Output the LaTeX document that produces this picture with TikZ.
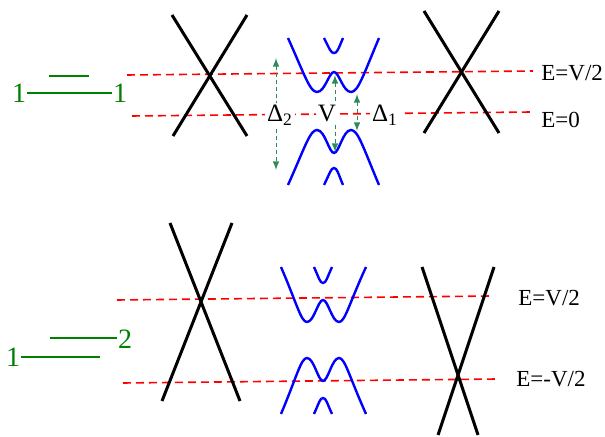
\documentclass[tikz,border=0pt]{standalone}
\usepackage{fontspec}
\setmainfont{Liberation Serif}
\usepackage{tikz}
\usetikzlibrary{arrows,positioning}
\definecolor{levelgreen}{RGB}{0,128,0}
\definecolor{gapgreen}{RGB}{46,139,87}

\tikzset{
  cone/.style={line width=1.5pt, black},
  band/.style={line width=1.2pt, blue},
  elevel/.style={red, line width=0.8pt, dash pattern=on 4pt off 2.5pt},
  gaparrow/.style={<->, >=latex, gapgreen, line width=0.5pt, dash pattern=on 2pt off 1.5pt},
  elabel/.style={anchor=west, inner sep=0pt, font=\fontsize{11.5}{13}\selectfont},
  gaplabel/.style={fill=white, inner sep=1pt, font=\fontsize{12.5}{14}\selectfont},
  num/.style={levelgreen, inner sep=0.5pt, font=\fontsize{14}{15}\selectfont},
  lvl/.style={levelgreen, line width=1.4pt}
}

\begin{document}
\begin{tikzpicture}[x=0.5pt, y=-0.5pt]
  \useasboundingbox (0,0) rectangle (605,437);

  % upper panel: levels 1 -- 1
  \node[num] (top1l) at (19,93) {1};
  \node[num] (top1r) at (120,93) {1};
  \draw[lvl] (top1l.east) -- (top1r.west);
  \draw[lvl] (49,76) -- (89,76);

  % energies
  \node[elabel] (topEv) at (541,73) {E=V/2};
  \node[elabel] (topE0) at (541,120) {E=0};
  \draw[elevel] (127,75) -- (533,71);
  \draw[elevel] (132,116) -- (532,112);

  % dirac cones
  \draw[cone] (172,15) -- (247,136);
  \draw[cone] (247,15) -- (173,136);
  \draw[cone] (424,11) -- (499,133);
  \draw[cone] (499,11) -- (424,133);

  % gapped bands
  \draw[band] (288,38) .. controls (305,76) and (310,92) .. (317,92)
    .. controls (325,92) and (329,72) .. (334,72)
    .. controls (339,72) and (343,92) .. (351,92)
    .. controls (358,92) and (363,76) .. (379,38);
  \draw[band] (324,38) .. controls (330,50) and (331,53) .. (334,53)
    .. controls (337,53) and (338,50) .. (343,38);
  \draw[band] (288,185) .. controls (305,147) and (310,130) .. (317,130)
    .. controls (325,130) and (329,153) .. (334,153)
    .. controls (339,153) and (343,130) .. (351,130)
    .. controls (358,130) and (363,147) .. (379,185);
  \draw[band] (324,185) .. controls (330,173) and (331,168) .. (334,168)
    .. controls (337,168) and (338,173) .. (343,185);

  % gaps
  \coordinate (d2top) at (276,58);
  \coordinate (d2bot) at (276,170);
  \coordinate (vtop) at (335,75);
  \coordinate (vbot) at (335,152);
  \coordinate (d1top) at (357,94);
  \coordinate (d1bot) at (357,131);
  \draw[gaparrow] (d2top) -- (d2bot);
  \draw[gaparrow] (vtop) -- (vbot);
  \draw[gaparrow] (d1top) -- (d1bot);
  \node[gaplabel] (delta2) at (280,115) {Δ\textsubscript{2}};
  \node[gaplabel] (vgap) at (327,114) {V};
  \node[gaplabel] (delta1) at (385,115) {Δ\textsubscript{1}};

  % lower panel: levels 1 -- 2
  \node[num] (bot1) at (13,357) {1};
  \node[num] (bot2) at (125,339) {2};
  \coordinate (bot1end) at (100,357);
  \coordinate (bot2start) at (50,338);
  \draw[lvl] (bot1.east) -- (bot1end);
  \draw[lvl] (bot2start) -- (bot2start -| bot2.west);

  % energies
  \node[elabel] (botEv) at (518,298) {E=V/2};
  \node[elabel] (botEm) at (516,379) {E=-V/2};
  \draw[elevel] (117,300) -- (492,296);
  \draw[elevel] (123,383) -- (497,379);

  % shifted cones
  \draw[cone] (170,223) -- (240,401);
  \draw[cone] (232,223) -- (162,401);
  \draw[cone] (422,267) -- (478,435);
  \draw[cone] (494,267) -- (438,435);

  % gapped bands
  \draw[band] (281,267) .. controls (297,304) and (301,322) .. (307,322)
    .. controls (314,322) and (318,300) .. (323,300)
    .. controls (328,300) and (332,322) .. (339,322)
    .. controls (345,322) and (349,304) .. (366,267);
  \draw[band] (314,267) .. controls (319,278) and (320,283) .. (323,283)
    .. controls (326,283) and (327,278) .. (332,267);
  \draw[band] (281,414) .. controls (297,376) and (301,358) .. (307,358)
    .. controls (314,358) and (318,381) .. (323,381)
    .. controls (328,381) and (332,358) .. (339,358)
    .. controls (345,358) and (349,376) .. (366,414);
  \draw[band] (314,414) .. controls (319,403) and (320,398) .. (323,398)
    .. controls (326,398) and (327,403) .. (332,414);
\end{tikzpicture}
\end{document}
